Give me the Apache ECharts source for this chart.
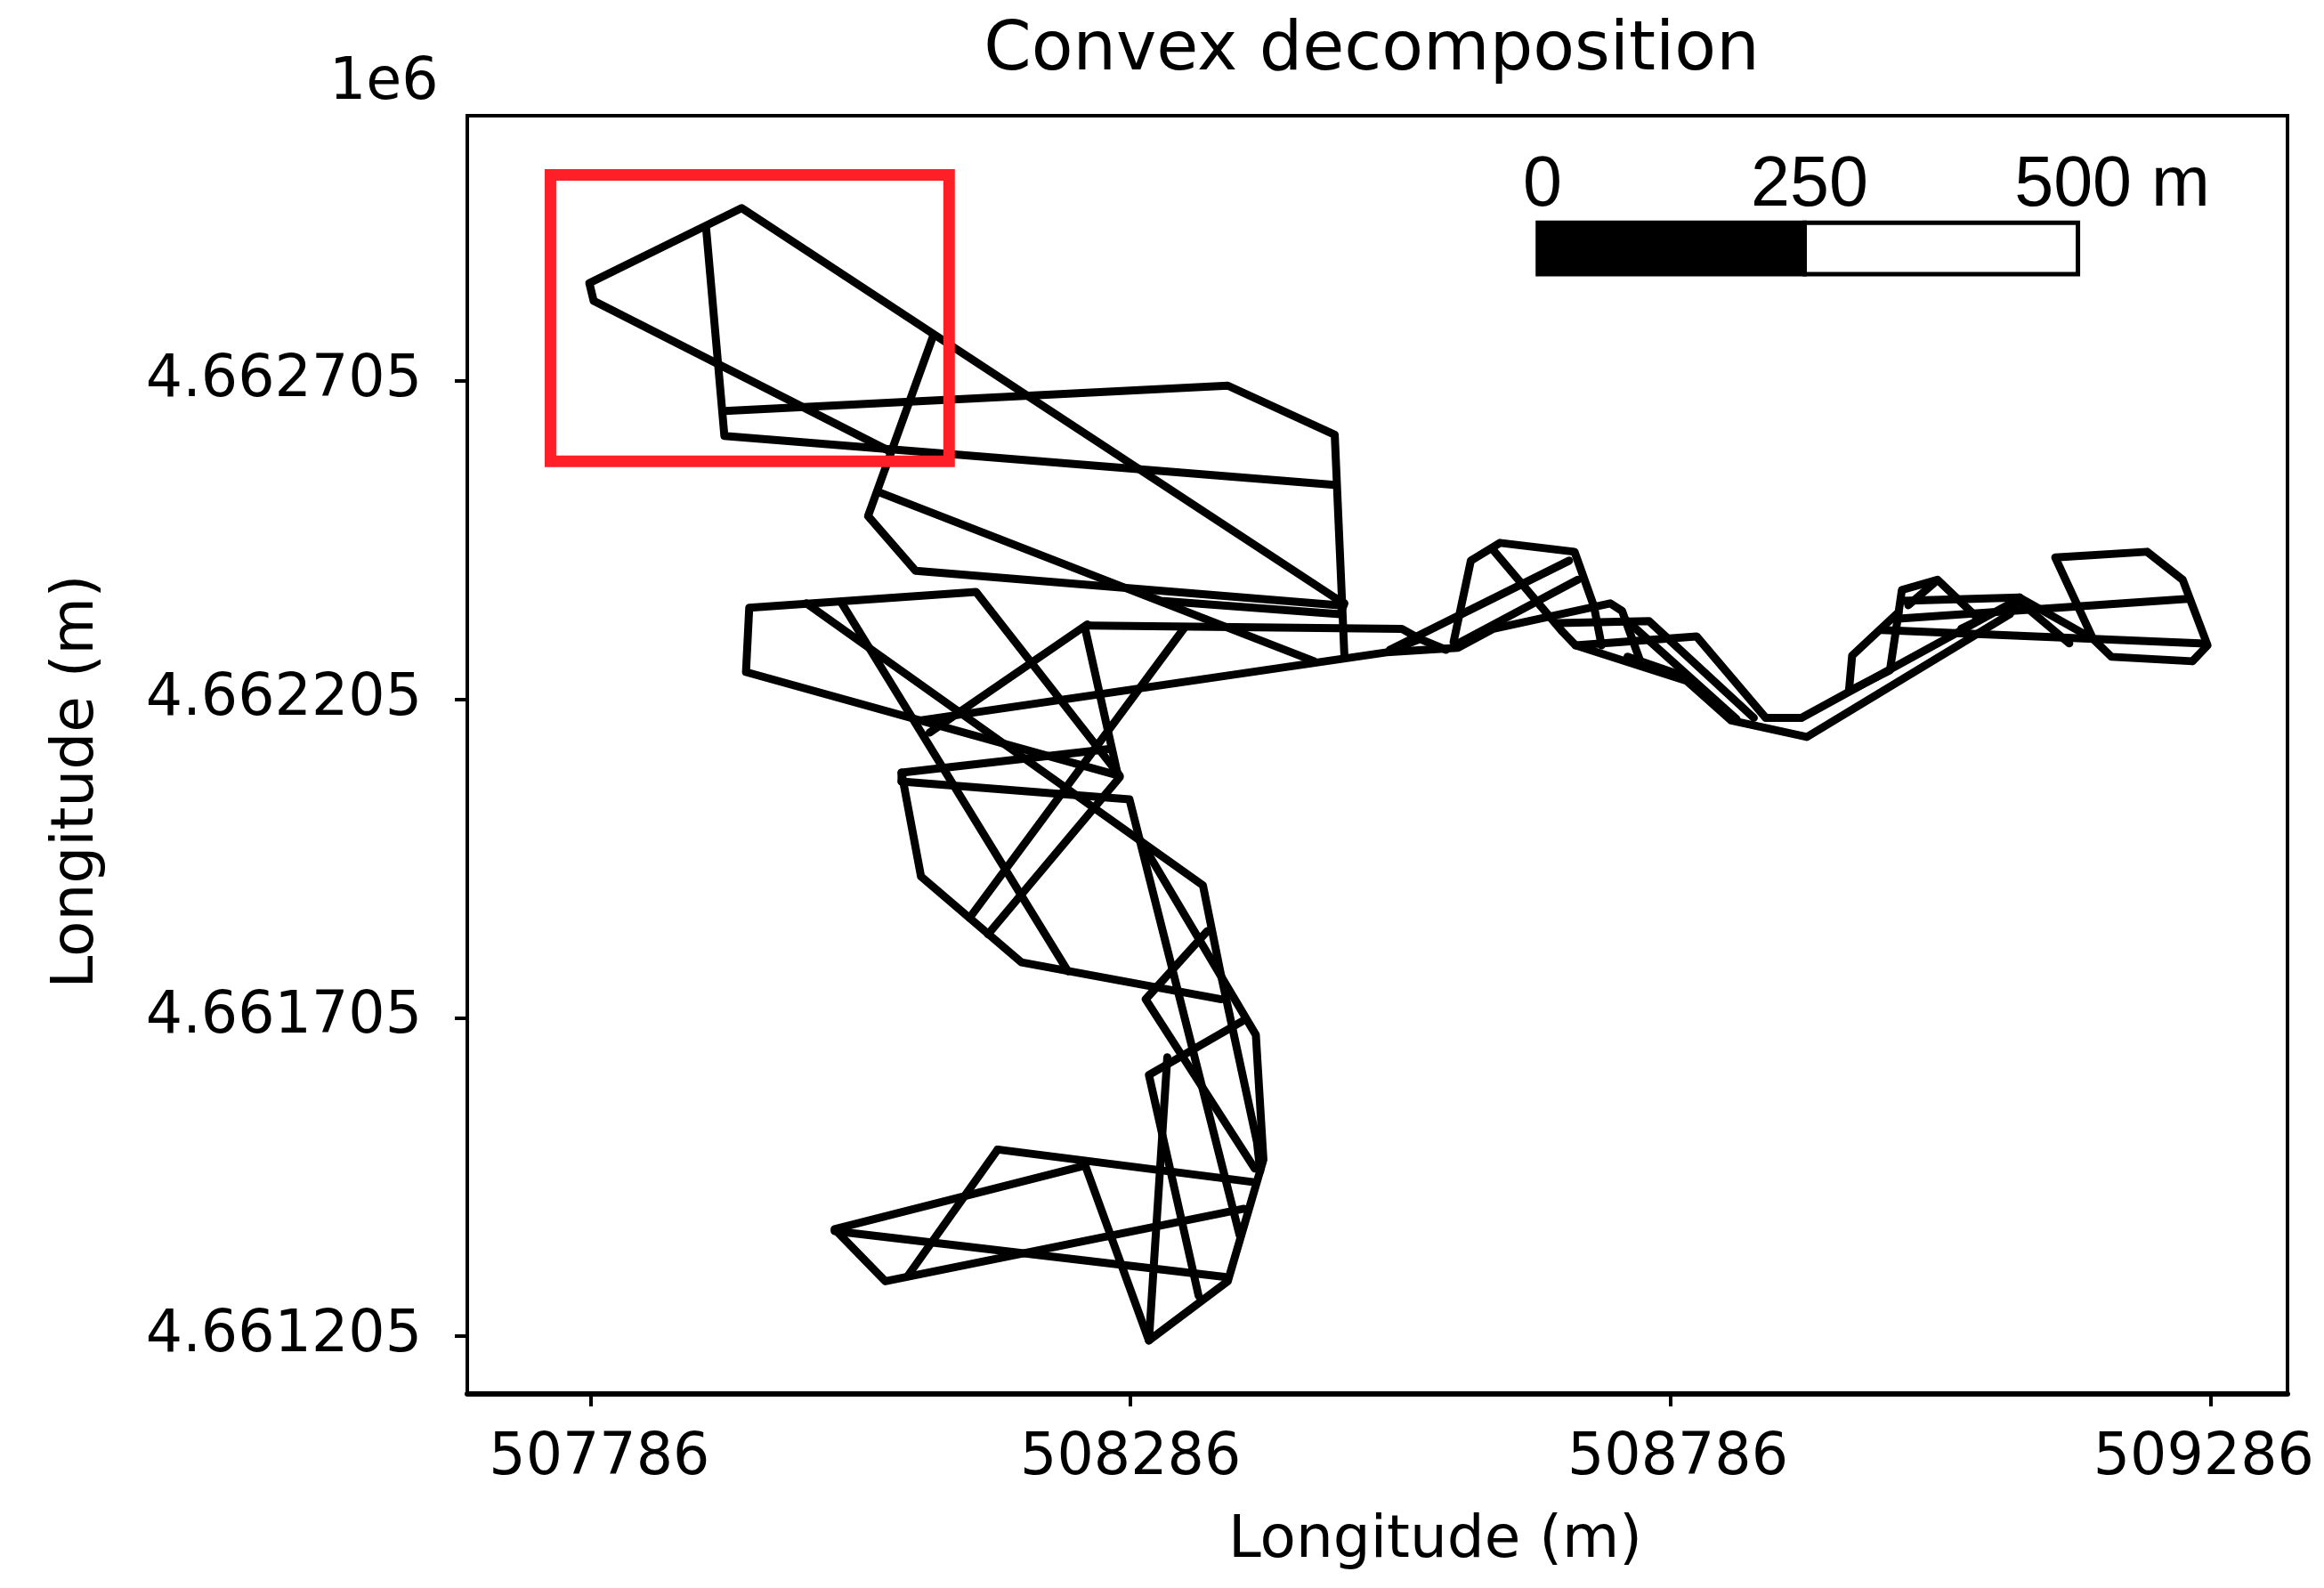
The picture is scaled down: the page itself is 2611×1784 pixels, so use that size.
<!DOCTYPE html>
<html>
<head>
<meta charset="utf-8">
<title>Convex decomposition</title>
<script src="https://cdn.jsdelivr.net/npm/echarts@6/dist/echarts.min.js"></script>
<style>
  html, body { margin: 0; padding: 0; background: #fff; }
  #chart { width: 2611px; height: 1784px; }
</style>
</head>
<body>
<div id="chart"></div>
<script>
// Axis ticks (metres)
const xTicks = [507786, 508286, 508786, 509286];
const yTicks = [4661205, 4661705, 4662205, 4662705];
const xRange = [507672, 509357];
const yRange = [4661114, 4663122];

// Outlines of the convex pieces, [easting, northing]
const partHeadTop = [[508063,4662595],[507789,4662831],[507785,4662859],[507926,4662977],[508483,4662356]];
const partHeadCut = [[507893,4662947],[507910,4662619],[508475,4662542]];
const partNorth = [[507910,4662658],[508376,4662698],[508475,4662621],[508484,4662272]];
const partNeck = [[508103,4662775],[508043,4662493],[508087,4662407],[508479,4662353]];
const partNeckLow = [[508054,4662530],[508456,4662265]];
const partNeckTail = [[508298,4662370],[508314,4662360],[508480,4662339],[508484,4662356]];
const partSpit = [[508247,4662321],[508537,4662316],[508554,4662300],[508578,4662283]];
const partSpitLow = [[508554,4662300],[508526,4662281]];
const partLong = [[508091,4662172],[508523,4662279],[508589,4662286],[508622,4662316],[508730,4662356],[508741,4662344],[508757,4662269]];
const partBump1 = [[508585,4662295],[508601,4662423],[508628,4662451],[508697,4662437],[508715,4662351],[508722,4662290]];
const partBump1a = [[508692,4662423],[508526,4662283]];
const partBump1b = [[508700,4662393],[508589,4662293]];
const partValleyLow = [[508622,4662439],[508686,4662311],[508698,4662290],[508801,4662234],[508842,4662172],[508912,4662146],[509100,4662339],[509109,4662365]];
const partValleyMid = [[508698,4662290],[508810,4662304],[508874,4662176],[508907,4662176],[509103,4662358]];
const partValleyTop = [[508681,4662325],[508766,4662328],[508863,4662176]];
const partValleyIn = [[508746,4662328],[508847,4662174]];
const partValleyRim = [[508746,4662272],[508801,4662240]];
const partBump2 = [[508951,4662218],[508954,4662274],[508997,4662342],[509000,4662377],[509033,4662393],[509072,4662330],[509055,4662316]];
const partBump2a = [[508951,4662218],[508989,4662251],[508997,4662342]];
const partBump2b = [[509030,4662388],[509006,4662353]];
const partEastA = [[509000,4662360],[509109,4662365]];
const partEastB = [[508997,4662332],[509265,4662363]];
const partEastC = [[508981,4662314],[509276,4662293]];
const partEnd = [[509109,4662365],[509177,4662300],[509194,4662272],[509269,4662265],[509283,4662290],[509260,4662393],[509227,4662437],[509142,4662428],[509177,4662300]];
const partEndIn = [[509106,4662363],[509155,4662293]];
const partWest = [[507933,4662349],[508143,4662374],[508276,4662085],[507930,4662248],[507933,4662349]];
const partBendA = [[507986,4662356],[508353,4661913],[508369,4661778],[508403,4661510],[508406,4661464]];
const partBendB = [[508018,4662358],[508228,4661778]];
const partMid = [[508074,4662090],[508092,4661927],[508185,4661792],[508370,4661734]];
const partMidTop = [[508074,4662076],[508074,4662090],[508266,4662127]];
const partMidEdge = [[508074,4662076],[508285,4662048],[508387,4661363]];
const partDiagA = [[508336,4662318],[508137,4661862]];
const partDiagB = [[508276,4662083],[508154,4661836]];
const partDiagC = [[508246,4662323],[508100,4662153]];
const partDiagD = [[508244,4662316],[508274,4662088]];
const partSouth = [[508296,4661981],[508402,4661678],[508409,4661482],[508376,4661291],[508303,4661198],[508244,4661473],[508012,4661373],[508059,4661291],[508391,4661405]];
const partHook = [[508163,4661498],[508399,4661447]];
const partHookB = [[508163,4661498],[508080,4661300]];
const partHookC = [[508012,4661370],[508373,4661298]];
const partSpine = [[508357,4661841],[508300,4661734],[508401,4661468]];
const partSpineB = [[508391,4661701],[508303,4661615],[508349,4661268]];
const partSpineC = [[508320,4661643],[508303,4661198]];

const parts = [
  partHeadTop, partHeadCut, partNorth, partNeck, partNeckLow, partNeckTail, partSpit, partSpitLow,
  partLong, partBump1, partBump1a, partBump1b, partValleyLow, partValleyMid, partValleyTop, partValleyIn, partValleyRim,
  partBump2, partBump2a, partBump2b, partEastA, partEastB, partEastC, partEnd, partEndIn,
  partWest, partBendA, partBendB, partMid, partMidTop, partMidEdge, partDiagA, partDiagB, partDiagC, partDiagD,
  partSouth, partHook, partHookB, partHookC, partSpine, partSpineB, partSpineC,
];

// Red inset frame
const insetBox = [[507749,4663029],[508118,4663029],[508118,4662579],[507749,4662579],[507749,4663029]];

// Scale bar: x0, x1, top, bottom
const scaleSegments = [
  [508663, 508910, 4662954, 4662873],
  [508910, 509163, 4662954, 4662873],
];
const scaleLabels = ["0", "250", "500 m"];

// The x labels sit slightly off their ticks in the original
const xLabelStyles = ["a", "b", "c", "d"];

const chart = echarts.init(document.getElementById("chart"), null, { renderer: "canvas" });
const dejavu = "DejaVu Sans";

const partSeries = parts.map((pts) => ({
  type: "line",
  data: pts,
  showSymbol: false,
  silent: true,
  animation: false,
  lineStyle: { color: "#000", width: 9, join: "round", cap: "round" },
  z: 3,
}));

chart.setOption({
  animation: false,
  backgroundColor: "#fff",
  title: {
    text: "Convex decomposition",
    left: 1536,
    top: 15,
    textAlign: "center",
    textStyle: { fontFamily: dejavu, fontSize: 76.5, fontWeight: "normal", color: "#000" },
  },
  grid: {
    left: 525, top: 130, width: 2045, height: 1436,
    show: true, borderColor: "#000", borderWidth: 4, backgroundColor: "#fff",
  },
  xAxis: {
    type: "value",
    min: xRange[0],
    max: xRange[1],
    name: "Longitude (m)",
    nameLocation: "middle",
    nameGap: 133,
    nameTextStyle: { fontFamily: dejavu, fontSize: 66, color: "#000", padding: [0, 0, 0, 130] },
    splitLine: { show: false },
    axisLine: { show: true, onZero: false, lineStyle: { color: "#000", width: 6 } },
    axisTick: { show: true, customValues: xTicks, length: 14, lineStyle: { color: "#000", width: 4 } },
    axisLabel: {
      customValues: xTicks,
      margin: 41,
      hideOverlap: false,
      fontFamily: dejavu, fontSize: 65, color: "#000",
      formatter: (v) => `{${xLabelStyles[xTicks.indexOf(v)]}|${v}}`,
      rich: {
        a: { fontFamily: dejavu, fontSize: 65, color: "#000", padding: [0, 0, 0, 20] },
        b: { fontFamily: dejavu, fontSize: 65, color: "#000" },
        c: { fontFamily: dejavu, fontSize: 65, color: "#000", padding: [0, 0, 0, 16] },
        d: { fontFamily: dejavu, fontSize: 65, color: "#000", padding: [0, 16, 0, 0] },
      },
    },
  },
  yAxis: {
    type: "value",
    min: yRange[0],
    max: yRange[1],
    name: "Longitude (m)",
    nameLocation: "middle",
    nameGap: 405,
    nameRotate: 90,
    nameTextStyle: { fontFamily: dejavu, fontSize: 66, color: "#000", padding: [0, 60, 0, 0] },
    splitLine: { show: false },
    axisLine: { show: false },
    axisTick: { show: true, customValues: yTicks, length: 14, lineStyle: { color: "#000", width: 4 } },
    axisLabel: {
      customValues: yTicks,
      margin: 51,
      padding: [19, 0, 0, 0],
      fontFamily: dejavu, fontSize: 65, color: "#000",
      formatter: (v) => (v / 1e6).toFixed(6),
    },
  },
  graphic: [
    { type: "text", left: 370, top: 62, style: { text: "1e6", font: "65px 'DejaVu Sans'", fill: "#000" } },
    { type: "text", x: 1733, y: 209, z: 20, style: { text: scaleLabels[0], font: "79px 'Liberation Sans'", fill: "#000", textAlign: "center", textVerticalAlign: "middle" } },
    { type: "text", x: 2033, y: 209, z: 20, style: { text: scaleLabels[1], font: "79px 'Liberation Sans'", fill: "#000", textAlign: "center", textVerticalAlign: "middle" } },
    { type: "text", x: 2373, y: 209, z: 20, style: { text: scaleLabels[2], font: "79px 'Liberation Sans'", fill: "#000", textAlign: "center", textVerticalAlign: "middle" } },
  ],
  series: [
    ...partSeries,
    {
      type: "line",
      data: insetBox,
      showSymbol: false,
      silent: true,
      lineStyle: { color: "#ff1f27", width: 13, join: "miter", cap: "square" },
      z: 4,
    },
    {
      type: "custom",
      silent: true,
      z: 5,
      data: scaleSegments,
      encode: { x: [0, 1], y: [2, 3] },
      renderItem: (params, api) => {
        const a = api.coord([api.value(0), api.value(2)]);
        const b = api.coord([api.value(1), api.value(3)]);
        return {
          type: "rect",
          shape: { x: a[0], y: a[1], width: b[0] - a[0], height: b[1] - a[1] },
          style: { fill: params.dataIndex === 0 ? "#000" : "#fff", stroke: "#000", lineWidth: 5 },
        };
      },
    },
  ],
});
</script>
</body>
</html>
